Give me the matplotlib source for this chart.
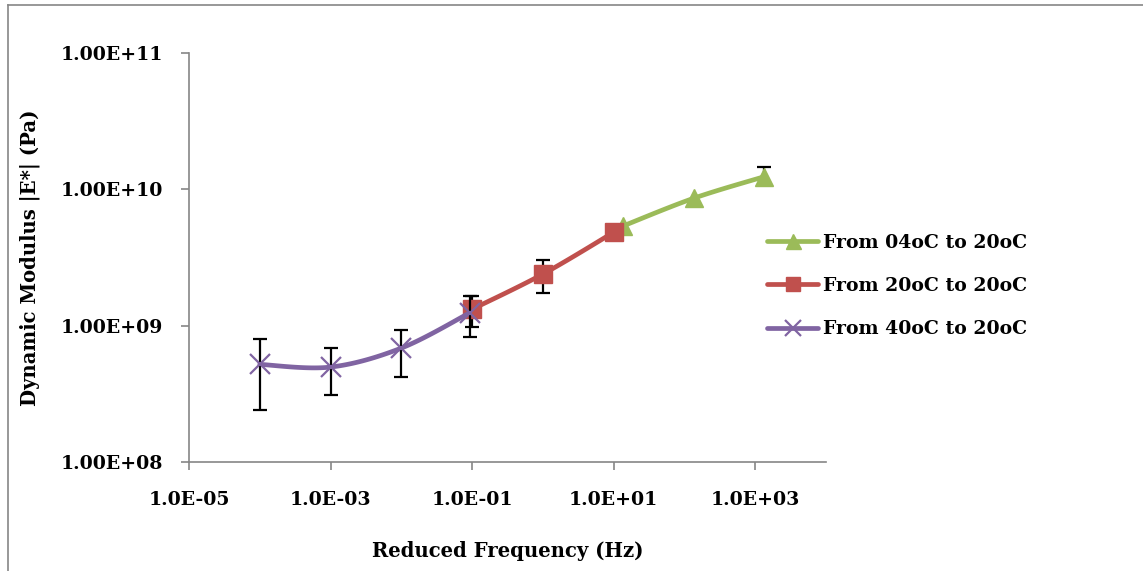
import matplotlib

matplotlib.use("Agg")
import matplotlib.pyplot as plt
import numpy as np
from matplotlib.lines import Line2D

# data
freq_04 = [13.5, 135.0, 1350.0]
mod_04 = [5.38e9, 8.6e9, 1.24e10]
err_04_lo = [0.0, 0.0, 1.2e9]
err_04_hi = [0.0, 0.0, 2.1e9]

freq_20 = [0.1, 1.0, 10.0]
mod_20 = [1.32e9, 2.39e9, 4.84e9]
err_20_lo = [3.5e8, 6.4e8, 0.0]
err_20_hi = [3.4e8, 6.5e8, 0.0]

freq_40 = [1e-4, 1e-3, 1e-2, 0.092]
mod_40 = [5.2e8, 4.97e8, 6.85e8, 1.24e9]
err_40_lo = [2.8e8, 1.87e8, 2.65e8, 4.2e8]
err_40_hi = [2.8e8, 1.88e8, 2.45e8, 4.1e8]

x_ticks = [1e-5, 1e-3, 1e-1, 1e1, 1e3]
x_tick_labels = ["1.0E-05", "1.0E-03", "1.0E-01", "1.0E+01", "1.0E+03"]
y_ticks = [1e8, 1e9, 1e10, 1e11]
y_tick_labels = ["1.00E+08", "1.00E+09", "1.00E+10", "1.00E+11"]

GREEN = "#9BBB59"
RED = "#C0504D"
PURPLE = "#8064A2"
GREY = "#868686"
FONT = "DejaVu Serif"


def smooth(xs, ys, n=30):
    """Excel-like smoothed line (Catmull-Rom) drawn in log-log space."""
    lx, ly = np.log10(xs), np.log10(ys)
    px = np.concatenate([[lx[0]], lx, [lx[-1]]])
    py = np.concatenate([[ly[0]], ly, [ly[-1]]])
    out_x, out_y = [], []
    t = np.linspace(0, 1, n)
    for i in range(1, len(px) - 2):
        p0x, p1x, p2x, p3x = px[i - 1], px[i], px[i + 1], px[i + 2]
        p0y, p1y, p2y, p3y = py[i - 1], py[i], py[i + 1], py[i + 2]
        c1x, c1y = p1x + (p2x - p0x) / 6, p1y + (p2y - p0y) / 6
        c2x, c2y = p2x - (p3x - p1x) / 6, p2y - (p3y - p1y) / 6
        bx = (1 - t) ** 3 * p1x + 3 * (1 - t) ** 2 * t * c1x + 3 * (1 - t) * t**2 * c2x + t**3 * p2x
        by = (1 - t) ** 3 * p1y + 3 * (1 - t) ** 2 * t * c1y + 3 * (1 - t) * t**2 * c2y + t**3 * p2y
        out_x.extend(bx)
        out_y.extend(by)
    return 10 ** np.array(out_x), 10 ** np.array(out_y)


fig = plt.figure(figsize=(11.43, 5.71), dpi=100)
ax = fig.add_axes([189 / 1143, 1 - 462 / 571, (826 - 189) / 1143, (462 - 53) / 571])

series = [
    (freq_04, mod_04, err_04_lo, err_04_hi, GREEN, "^", 13.5, "From 04oC to 20oC"),
    (freq_20, mod_20, err_20_lo, err_20_hi, RED, "s", 12.5, "From 20oC to 20oC"),
    (freq_40, mod_40, err_40_lo, err_40_hi, PURPLE, "x", 14, "From 40oC to 20oC"),
]

handles = []
for i, (fx, my, elo, ehi, color, marker, ms, label) in enumerate(series):
    sx, sy = smooth(fx, my)
    z = 3 + i
    mew = 1.6 if marker == "x" else 1
    ax.plot(sx, sy, color=color, lw=3.4, solid_capstyle="round", zorder=z)
    # only points that carry an error bar
    keep = [k for k in range(len(fx)) if elo[k] > 0 or ehi[k] > 0]
    ax.errorbar([fx[k] for k in keep], [my[k] for k in keep],
                yerr=[[elo[k] for k in keep], [ehi[k] for k in keep]],
                fmt="none", ecolor="black", elinewidth=1.6, capsize=5,
                capthick=1.6, zorder=z + 0.2)
    ax.plot(fx, my, ls="none", marker=marker, ms=ms, color=color,
            mec=color, mew=mew, zorder=z + 0.4)
    handles.append(Line2D([], [], color=color, lw=3.4, marker=marker,
                          ms=ms * 0.8, mew=mew, solid_capstyle="round", label=label))

ax.set_xscale("log")
ax.set_yscale("log")
ax.set_xlim(1e-5, 1e4)
ax.set_ylim(1e8, 1e11)
ax.set_xticks(x_ticks)
ax.set_xticklabels(x_tick_labels)
ax.set_yticks(y_ticks)
ax.set_yticklabels(y_tick_labels)
ax.minorticks_off()

for side in ("top", "right"):
    ax.spines[side].set_visible(False)
for side in ("left", "bottom"):
    ax.spines[side].set_color(GREY)
    ax.spines[side].set_linewidth(1.2)
ax.tick_params(axis="both", colors=GREY, length=6, width=1.2, direction="out")
ax.tick_params(axis="y", pad=13)
ax.tick_params(axis="x", pad=15)
for lbl in ax.get_xticklabels() + ax.get_yticklabels():
    lbl.set_color("black")
    lbl.set_fontfamily(FONT)
    lbl.set_fontweight("bold")
    lbl.set_fontsize(13.6)

ax.set_xlabel("Reduced Frequency (Hz)", fontfamily=FONT, fontweight="bold", fontsize=14.1)
ax.set_ylabel("Dynamic Modulus |E*| (Pa)", fontfamily=FONT, fontweight="bold", fontsize=14.1)
ax.yaxis.set_label_coords((40 - 189) / (826 - 189), 0.5)
ax.xaxis.set_label_coords(0.5, -(541 - 462) / (462 - 53))

fig.legend(handles=handles, loc="center left", bbox_to_anchor=(750 / 1143, 1 - 286 / 571),
           frameon=False, handlelength=2.7, handletextpad=0.25, labelspacing=1.35,
           prop={"family": FONT, "weight": "bold", "size": 13.6})

# chart-area border (only top and left edges fall inside the picture)
fig.add_artist(Line2D([8 / 1143, 8 / 1143], [-0.05, 1 - 5 / 571], transform=fig.transFigure,
                      color=GREY, lw=1.2))
fig.add_artist(Line2D([8 / 1143, 1.05], [1 - 5 / 571, 1 - 5 / 571], transform=fig.transFigure,
                      color=GREY, lw=1.2))

fig.savefig("out.png", dpi=100)
